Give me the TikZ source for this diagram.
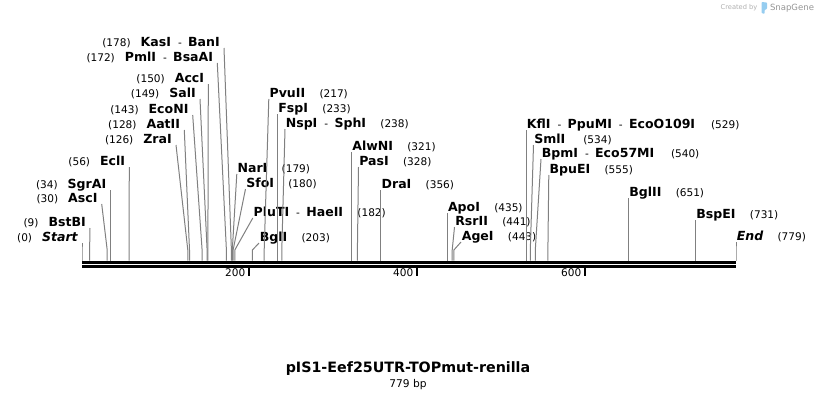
\documentclass[tikz,border=0pt]{standalone}
\usepackage{fontspec}
\setmainfont{DejaVu Sans}
\usetikzlibrary{positioning}

\definecolor{siteline}{RGB}{128,128,128}
\definecolor{snapblue}{RGB}{150,205,240}
\definecolor{markgray}{RGB}{175,175,175}
\newcommand{\enzname}[1]{{\fontsize{9.4}{10}\selectfont\bfseries #1}}
\newcommand{\sitepos}[1]{{\fontsize{7.9}{9}\selectfont #1}}
\newcommand{\dsep}{\hspace{5.25pt}\sitepos{-}\hspace{4.75pt}}
\newcommand{\lgap}{\hspace{7.5pt}}
\newcommand{\rgap}{\hspace{10.75pt}}

\tikzset{
	site/.style={draw=siteline, line width=0.75pt},
	leftlab/.style={anchor=south east, inner xsep=3pt, inner ysep=1pt, text depth=0pt},
	rightlab/.style={anchor=south west, inner xsep=0.4pt, inner ysep=1pt, text depth=0pt},
	bar/.style={line width=2.2pt},
	tick/.style={line width=1.5pt},
}

\begin{document}
\begin{tikzpicture}[x=0.75pt, y=-0.75pt]
	\useasboundingbox (0,0) rectangle (818,400);
	\draw[bar] (82,262.2) -- (736,262.2);
	\draw[bar] (82,266.4) -- (736,266.4);
	\foreach \t/\tx in {200/248.5,400/416.5,600/584.5} {
		\draw[tick] (\tx,267) -- (\tx,276);
		\node[anchor=east, inner sep=0pt] (t\t) at (\tx-3,273) {\sitepos{\t}};
	}
	\foreach \nm/\sx/\tx/\ty/\lab in {
		Start/82/82/243/{\sitepos{(0)}\lgap\enzname{\itshape Start}},
		BstBI/89.6/90/228/{\sitepos{(9)}\lgap\enzname{BstBI}},
		AscI/107.2/101.7/204/{\sitepos{(30)}\lgap\enzname{AscI}},
		SgrAI/110.5/110.5/190/{\sitepos{(34)}\lgap\enzname{SgrAI}},
		EclI/129/129.3/167/{\sitepos{(56)}\lgap\enzname{EclI}},
		ZraI/187.8/176/145/{\sitepos{(126)}\lgap\enzname{ZraI}},
		AatII/189.5/184.3/130/{\sitepos{(128)}\lgap\enzname{AatII}},
		EcoNI/202.1/192.7/115/{\sitepos{(143)}\lgap\enzname{EcoNI}},
		SalI/207.1/200/99/{\sitepos{(149)}\lgap\enzname{SalI}},
		AccI/207.9/208.3/84/{\sitepos{(150)}\lgap\enzname{AccI}},
		PmlI/226.4/217.3/63/{\sitepos{(172)}\lgap\enzname{PmlI}\dsep\enzname{BsaAI}},
		KasI/231.4/224/48/{\sitepos{(178)}\lgap\enzname{KasI}\dsep\enzname{BanI}}
	} {
		\coordinate (p\nm) at (\sx,260.5);
		\node[leftlab] (\nm) at (\tx,\ty) {\lab};
		\draw[site] (p\nm) -- ++(0,-10.5) -- (\nm.south east);
	}
	\foreach \nm/\sx/\tx/\ty/\lab in {
		NarI/232.3/236.8/174/{\enzname{NarI}\rgap\sitepos{(179)}},
		SfoI/233.1/245.5/189/{\enzname{SfoI}\rgap\sitepos{(180)}},
		PluTI/234.8/252.8/218/{\enzname{PluTI}\dsep\enzname{HaeII}\rgap\sitepos{(182)}},
		BglI/252.4/259/243/{\enzname{BglI}\rgap\sitepos{(203)}},
		PvuII/264.2/268.8/99/{\enzname{PvuII}\rgap\sitepos{(217)}},
		FspI/277.6/277.6/114/{\enzname{FspI}\rgap\sitepos{(233)}},
		NspI/281.8/285/129/{\enzname{NspI}\dsep\enzname{SphI}\rgap\sitepos{(238)}},
		AlwNI/351.5/351.5/152/{\enzname{AlwNI}\rgap\sitepos{(321)}},
		PasI/357.4/358.5/167/{\enzname{PasI}\rgap\sitepos{(328)}},
		DraI/380.9/380.9/190/{\enzname{DraI}\rgap\sitepos{(356)}},
		ApoI/447.2/447.2/213/{\enzname{ApoI}\rgap\sitepos{(435)}},
		RsrII/452.2/454.5/227/{\enzname{RsrII}\rgap\sitepos{(441)}},
		AgeI/453.9/461/242/{\enzname{AgeI}\rgap\sitepos{(443)}},
		KflI/526.1/526.1/130/{\enzname{KflI}\dsep\enzname{PpuMI}\dsep\enzname{EcoO109I}\hspace{12pt}\sitepos{(529)}},
		SmlI/530.3/533.5/145/{\enzname{SmlI}\hspace{13.5pt}\sitepos{(534)}},
		BpmI/535.3/541/159/{\enzname{BpmI}\dsep\enzname{Eco57MI}\hspace{12.5pt}\sitepos{(540)}},
		BpuEI/547.9/548.8/175/{\enzname{BpuEI}\rgap\sitepos{(555)}},
		BglII/628.5/628.5/198/{\enzname{BglII}\rgap\sitepos{(651)}},
		BspEI/695.6/695.6/220/{\enzname{BspEI}\rgap\sitepos{(731)}},
		End/736/736/242/{\enzname{\itshape End}\rgap\sitepos{(779)}}
	} {
		\coordinate (p\nm) at (\sx,260.5);
		\node[rightlab] (\nm) at (\tx,\ty) {\lab};
		\draw[site] (p\nm) -- ++(0,-10.5) -- (\nm.south west);
	}
	\node (title) at (408,369) {\fontsize{10.7}{12}\selectfont\bfseries pIS1-Eef25UTR-TOPmut-renilla};
	\node (length) at (408,384.5) {\fontsize{8}{9}\selectfont 779 bp};
	\node[text=markgray, inner sep=0pt] (created) at (739,8) {\fontsize{5}{6}\selectfont Created by};
	\fill[snapblue, rounded corners=0.6pt] (761.5,2) -- (767,2.5) -- (767,9) -- (764.5,10) -- (764.5,14) -- (761.5,13) -- cycle;
	\node[text=markgray!85!black, inner sep=0pt] (snapgene) at (792,8) {\fontsize{6.4}{7}\selectfont SnapGene};
\end{tikzpicture}
\end{document}
